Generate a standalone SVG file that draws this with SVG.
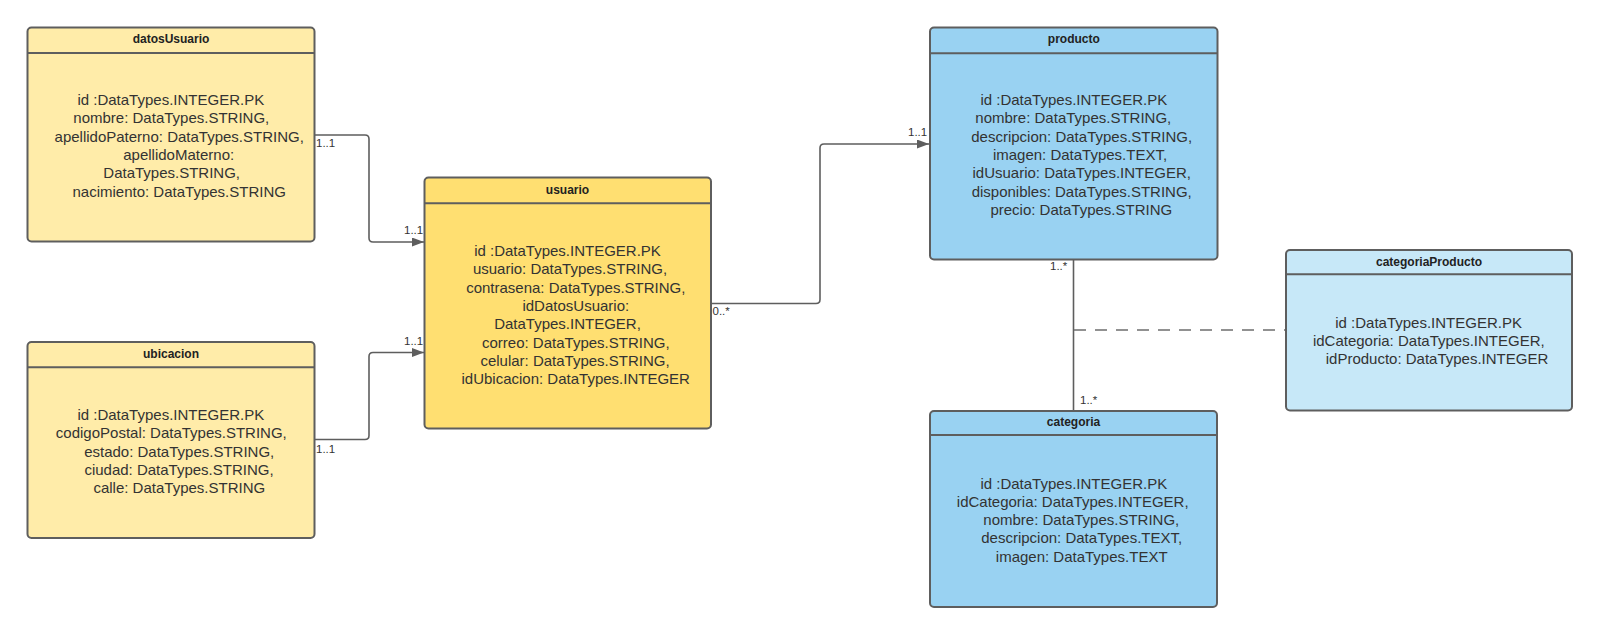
<svg xmlns="http://www.w3.org/2000/svg" width="1600" height="634" viewBox="0 0 1600 634">
<style>
.box{stroke:#5e5e5e;stroke-width:2}
.hd{stroke:#5e5e5e;stroke-width:2}
.y1{fill:#ffeca9}
.y2{fill:#ffdf71}
.b1{fill:#99d2f2}
.b2{fill:#c7e8f8}
.title{font-family:"Liberation Sans",Arial,sans-serif;font-size:12px;font-weight:bold;fill:#222;text-anchor:middle}
.attr{font-family:"Liberation Sans",Arial,sans-serif;font-size:15px;fill:#333;text-anchor:middle}
.lbl{font-family:"Liberation Sans",Arial,sans-serif;font-size:11.5px;fill:#333}
.con{fill:none;stroke:#5e5e5e;stroke-width:1.6}
.dash{fill:none;stroke:#6e6e6e;stroke-width:1.6;stroke-dasharray:12 9}
</style>
<defs>
<marker id="arr" markerUnits="userSpaceOnUse" markerWidth="13" markerHeight="10" refX="12" refY="4.5" orient="auto">
<path d="M0,0 L12,4.5 L0,9 z" fill="#5e5e5e"/>
</marker>
</defs>

<g id="connectors">
<path class="con" d="M315,135 H365 Q369,135 369,139 V238 Q369,242 373,242 H424" marker-end="url(#arr)"/>
<path class="con" d="M315,439.5 H365 Q369,439.5 369,435.5 V356.5 Q369,352.5 373,352.5 H424" marker-end="url(#arr)"/>
<path class="con" d="M711,303.5 H816 Q820,303.5 820,299.5 V148 Q820,144 824,144 H929" marker-end="url(#arr)"/>
<path class="con" d="M1073.5,260 V411"/>
<path class="dash" d="M1074,330 H1285"/>
<text class="lbl" x="316" y="147">1..1</text>
<text class="lbl" x="404" y="234">1..1</text>
<text class="lbl" x="316" y="452.5">1..1</text>
<text class="lbl" x="404" y="345">1..1</text>
<text class="lbl" x="712.5" y="315">0..*</text>
<text class="lbl" x="908" y="136">1..1</text>
<text class="lbl" x="1050" y="270">1..*</text>
<text class="lbl" x="1080" y="404">1..*</text>
</g>

<g id="datosUsuario">
<rect class="box y1" x="27.5" y="27.5" width="287" height="214" rx="4"/>
<line class="hd" x1="27.5" y1="53" x2="314.5" y2="53"/>
<text class="title" x="171" y="43">datosUsuario</text>
<text class="attr" x="170.8" y="105">id :DataTypes.INTEGER.PK</text>
<text class="attr" x="171.3" y="123.3">nombre: DataTypes.STRING,</text>
<text class="attr" x="179.2" y="141.6">apellidoPaterno: DataTypes.STRING,</text>
<text class="attr" x="178.7" y="159.9">apellidoMaterno:</text>
<text class="attr" x="171.7" y="178.2">DataTypes.STRING,</text>
<text class="attr" x="179.2" y="196.5">nacimiento: DataTypes.STRING</text>
</g>

<g id="ubicacion">
<rect class="box y1" x="27.5" y="342" width="287" height="196" rx="4"/>
<line class="hd" x1="27.5" y1="367.3" x2="314.5" y2="367.3"/>
<text class="title" x="171" y="357.5">ubicacion</text>
<text class="attr" x="170.8" y="420">id :DataTypes.INTEGER.PK</text>
<text class="attr" x="171.3" y="438.3">codigoPostal: DataTypes.STRING,</text>
<text class="attr" x="179.2" y="456.6">estado: DataTypes.STRING,</text>
<text class="attr" x="179" y="474.9">ciudad: DataTypes.STRING,</text>
<text class="attr" x="179.3" y="493.2">calle: DataTypes.STRING</text>
</g>

<g id="usuario">
<rect class="box y2" x="424.5" y="177.5" width="286.5" height="251" rx="4"/>
<line class="hd" x1="424.5" y1="203.3" x2="711" y2="203.3"/>
<text class="title" x="567.5" y="193.5">usuario</text>
<text class="attr" x="567.5" y="256">id :DataTypes.INTEGER.PK</text>
<text class="attr" x="570" y="274.3">usuario: DataTypes.STRING,</text>
<text class="attr" x="575.8" y="292.6">contrasena: DataTypes.STRING,</text>
<text class="attr" x="575.8" y="310.9">idDatosUsuario:</text>
<text class="attr" x="567.5" y="329.2">DataTypes.INTEGER,</text>
<text class="attr" x="575.8" y="347.5">correo: DataTypes.STRING,</text>
<text class="attr" x="575" y="365.8">celular: DataTypes.STRING,</text>
<text class="attr" x="575.7" y="384.1">idUbicacion: DataTypes.INTEGER</text>
</g>

<g id="producto">
<rect class="box b1" x="930" y="27.5" width="287.5" height="232" rx="4"/>
<line class="hd" x1="930" y1="53.3" x2="1217.5" y2="53.3"/>
<text class="title" x="1073.8" y="43">producto</text>
<text class="attr" x="1073.8" y="105">id :DataTypes.INTEGER.PK</text>
<text class="attr" x="1073.3" y="123.3">nombre: DataTypes.STRING,</text>
<text class="attr" x="1081.7" y="141.6">descripcion: DataTypes.STRING,</text>
<text class="attr" x="1080" y="159.9">imagen: DataTypes.TEXT,</text>
<text class="attr" x="1081.7" y="178.2">idUsuario: DataTypes.INTEGER,</text>
<text class="attr" x="1081.7" y="196.5">disponibles: DataTypes.STRING,</text>
<text class="attr" x="1081.3" y="214.8">precio: DataTypes.STRING</text>
</g>

<g id="categoriaProducto">
<rect class="box b2" x="1286" y="250" width="286" height="160.5" rx="4"/>
<line class="hd" x1="1286" y1="274.3" x2="1572" y2="274.3"/>
<text class="title" x="1429" y="266">categoriaProducto</text>
<text class="attr" x="1428.6" y="327.7">id :DataTypes.INTEGER.PK</text>
<text class="attr" x="1428.8" y="346">idCategoria: DataTypes.INTEGER,</text>
<text class="attr" x="1437" y="364.3">idProducto: DataTypes.INTEGER</text>
</g>

<g id="categoria">
<rect class="box b1" x="930" y="411" width="287" height="196" rx="4"/>
<line class="hd" x1="930" y1="435" x2="1217" y2="435"/>
<text class="title" x="1073.5" y="426">categoria</text>
<text class="attr" x="1073.8" y="488.5">id :DataTypes.INTEGER.PK</text>
<text class="attr" x="1072.7" y="506.8">idCategoria: DataTypes.INTEGER,</text>
<text class="attr" x="1081.3" y="525.1">nombre: DataTypes.STRING,</text>
<text class="attr" x="1081.7" y="543.4">descripcion: DataTypes.TEXT,</text>
<text class="attr" x="1081.7" y="561.7">imagen: DataTypes.TEXT</text>
</g>
</svg>
